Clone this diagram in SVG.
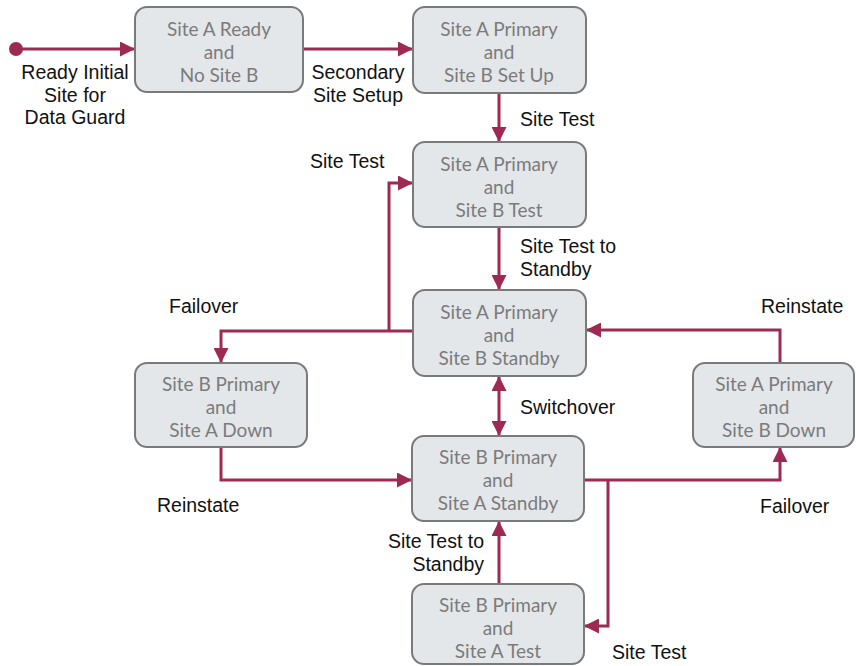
<svg xmlns="http://www.w3.org/2000/svg" width="856" height="666" viewBox="0 0 856 666">
  <defs>
    <marker id="arrow" viewBox="0 0 10 10" refX="10" refY="5" markerWidth="5" markerHeight="5" orient="auto-start-reverse" markerUnits="strokeWidth">
      <path d="M0,0 L10,5 L0,10 Z" fill="#9d2a52"/>
    </marker>
    <style>
      .node rect { fill: #e4e7ea; stroke: #7a7a7a; stroke-width: 2; }
      .node text { font-family: Lato, "Open Sans", sans-serif; font-size: 19px; fill: #7b7b7b; text-anchor: middle; }
      .edge { fill: none; stroke: #9d2a52; stroke-width: 3; }
      .lbl { font-family: "Liberation Sans", Arial, sans-serif; font-size: 19.5px; fill: #111; }
    </style>
  </defs>

  <!-- transitions -->
  <g id="connectors">
    <circle cx="16" cy="49" r="7" fill="#9d2a52"/>
    <path class="edge" d="M16,49 H135" marker-end="url(#arrow)"/>
    <path class="edge" d="M303,49 H413" marker-end="url(#arrow)"/>
    <path class="edge" d="M499,93 V142" marker-end="url(#arrow)"/>
    <path class="edge" d="M499,227 V290" marker-end="url(#arrow)"/>
    <path class="edge" d="M413,331 H221 V363" marker-end="url(#arrow)"/>
    <path class="edge" d="M389,331 V183 H413" marker-end="url(#arrow)"/>
    <path class="edge" d="M221,447 V480 H412" marker-end="url(#arrow)"/>
    <path class="edge" d="M499,376 V436" marker-start="url(#arrow)" marker-end="url(#arrow)"/>
    <path class="edge" d="M780,363 V330 H586" marker-end="url(#arrow)"/>
    <path class="edge" d="M584,480 H780 V447" marker-end="url(#arrow)"/>
    <path class="edge" d="M499,584 V521" marker-end="url(#arrow)"/>
    <path class="edge" d="M608,480 V626 H584" marker-end="url(#arrow)"/>

    <text class="lbl" text-anchor="middle"><tspan x="75" y="79">Ready Initial</tspan><tspan x="75" y="102">Site for</tspan><tspan x="75" y="124">Data Guard</tspan></text>
    <text class="lbl" text-anchor="middle"><tspan x="358" y="79">Secondary</tspan><tspan x="358" y="102">Site Setup</tspan></text>
    <text class="lbl" x="520" y="126">Site Test</text>
    <text class="lbl" x="310" y="168">Site Test</text>
    <text class="lbl"><tspan x="520" y="253">Site Test to</tspan><tspan x="520" y="276">Standby</tspan></text>
    <text class="lbl" x="169" y="313">Failover</text>
    <text class="lbl" x="761" y="313">Reinstate</text>
    <text class="lbl" x="520" y="414">Switchover</text>
    <text class="lbl" x="157" y="512">Reinstate</text>
    <text class="lbl" x="760" y="513">Failover</text>
    <text class="lbl" text-anchor="end"><tspan x="484" y="548">Site Test to</tspan><tspan x="484" y="571">Standby</tspan></text>
    <text class="lbl" x="612" y="659">Site Test</text>
  </g>

  <g id="siteA-ready" class="node">
    <rect x="135" y="7" width="168" height="85" rx="12"/>
    <text><tspan x="219" y="36">Site A Ready</tspan><tspan x="219" y="59">and</tspan><tspan x="219" y="82">No Site B</tspan></text>
  </g>
  <g id="siteB-setup" class="node">
    <rect x="413" y="7" width="173" height="86" rx="12"/>
    <text><tspan x="499" y="36">Site A Primary</tspan><tspan x="499" y="59">and</tspan><tspan x="499" y="82">Site B Set Up</tspan></text>
  </g>
  <g id="siteB-test" class="node">
    <rect x="413" y="142" width="173" height="85" rx="12"/>
    <text><tspan x="499" y="171">Site A Primary</tspan><tspan x="499" y="194">and</tspan><tspan x="499" y="217">Site B Test</tspan></text>
  </g>
  <g id="siteB-standby" class="node">
    <rect x="413" y="290" width="173" height="86" rx="12"/>
    <text><tspan x="499" y="319">Site A Primary</tspan><tspan x="499" y="342">and</tspan><tspan x="499" y="365">Site B Standby</tspan></text>
  </g>
  <g id="siteA-down" class="node">
    <rect x="135" y="363" width="172" height="84" rx="12"/>
    <text><tspan x="221" y="391">Site B Primary</tspan><tspan x="221" y="414">and</tspan><tspan x="221" y="437">Site A Down</tspan></text>
  </g>
  <g id="siteA-standby" class="node">
    <rect x="412" y="436" width="172" height="85" rx="12"/>
    <text><tspan x="498" y="464">Site B Primary</tspan><tspan x="498" y="487">and</tspan><tspan x="498" y="510">Site A Standby</tspan></text>
  </g>
  <g id="siteB-down" class="node">
    <rect x="693" y="363" width="161" height="84" rx="12"/>
    <text><tspan x="774" y="391">Site A Primary</tspan><tspan x="774" y="414">and</tspan><tspan x="774" y="437">Site B Down</tspan></text>
  </g>
  <g id="siteA-test" class="node">
    <rect x="412" y="584" width="172" height="80" rx="12"/>
    <text><tspan x="498" y="612">Site B Primary</tspan><tspan x="498" y="635">and</tspan><tspan x="498" y="658">Site A Test</tspan></text>
  </g>
</svg>
